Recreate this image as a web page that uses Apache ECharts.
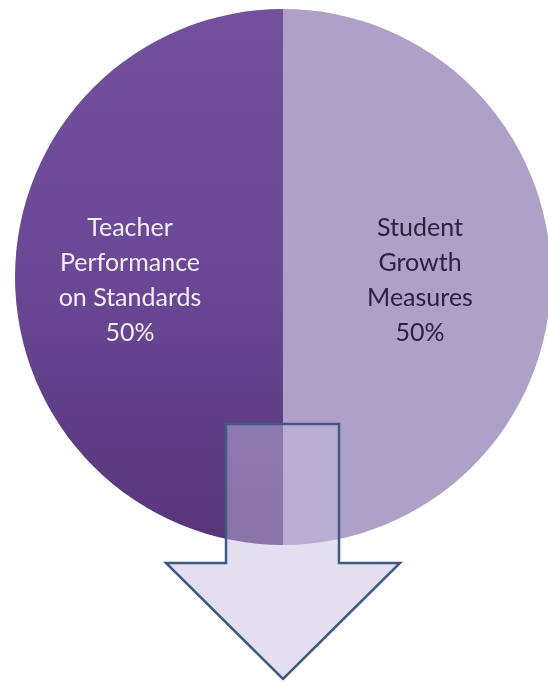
<!DOCTYPE html>
<html>
<head>
<meta charset="utf-8">
<script src="https://cdn.jsdelivr.net/npm/echarts@6/dist/echarts.min.js"></script>
<style>
    html, body { margin: 0; padding: 0; background: #ffffff; }
    #pie { width: 548px; height: 682px; }
</style>
</head>
<body>
<div id="pie"></div>
<script>
// 数据
var categories = ["Student\nGrowth\nMeasures", "Teacher\nPerformance\non Standards"]
var shares = [50, 50]
var labelColors = ['#2b2240', '#f3eef8']

var cx = 283, cy = 277, r = 268

function pie_option_fun(ECharts){
    var left_color = new echarts.graphic.LinearGradient(0, 0, 0, 1, [
        {offset: 0, color: '#72509c'},
        {offset: 0.5, color: '#6a4896'},
        {offset: 1, color: '#56357a'}
    ])
    var colors = ['#afa0c8', left_color]
    var offsets = [[0, 3], [-16, 3]]

    var data = categories.map(function(name, i){
        return {
            name: name,
            value: shares[i],
            itemStyle: {color: colors[i]},
            label: {color: labelColors[i], offset: offsets[i]}
        }
    })

    // 箭头 (以饼图中心为基准)
    var arrow = [
        [cx - 57, 424], [cx + 56, 424], [cx + 56, 563], [cx + 117, 563],
        [cx, 679], [cx - 117, 563], [cx - 57, 563]
    ]

    var optionPie = {
        animation: false,
        backgroundColor: '#ffffff',
        series: [
            {
                name: 'Evaluation',
                type: 'pie',
                center: [cx, cy],
                radius: [0, r],
                startAngle: 90,
                clockwise: true,
                avoidLabelOverlap: false,
                silent: true,
                itemStyle: {borderWidth: 0},
                label: {
                    show: true,
                    position: 'inner',
                    formatter: function(p){ return p.name + '\n' + p.value + '%' },
                    fontFamily: 'Lato',
                    fontSize: 25,
                    lineHeight: 35,
                    align: 'center'
                },
                labelLine: {show: false},
                data: data
            }
        ],
        graphic: [
            {
                type: 'polygon',
                z: 100,
                shape: {points: arrow},
                style: {
                    fill: 'rgba(198,187,223,0.47)',
                    stroke: '#3f5a85',
                    lineWidth: 2.5,
                    lineJoin: 'miter'
                }
            }
        ]
    };
    return optionPie
}

var pie_echarts = echarts.init(document.querySelector("#pie"))
var pie_option = pie_option_fun(pie_echarts)
pie_echarts.setOption(pie_option)
</script>
</body>
</html>
